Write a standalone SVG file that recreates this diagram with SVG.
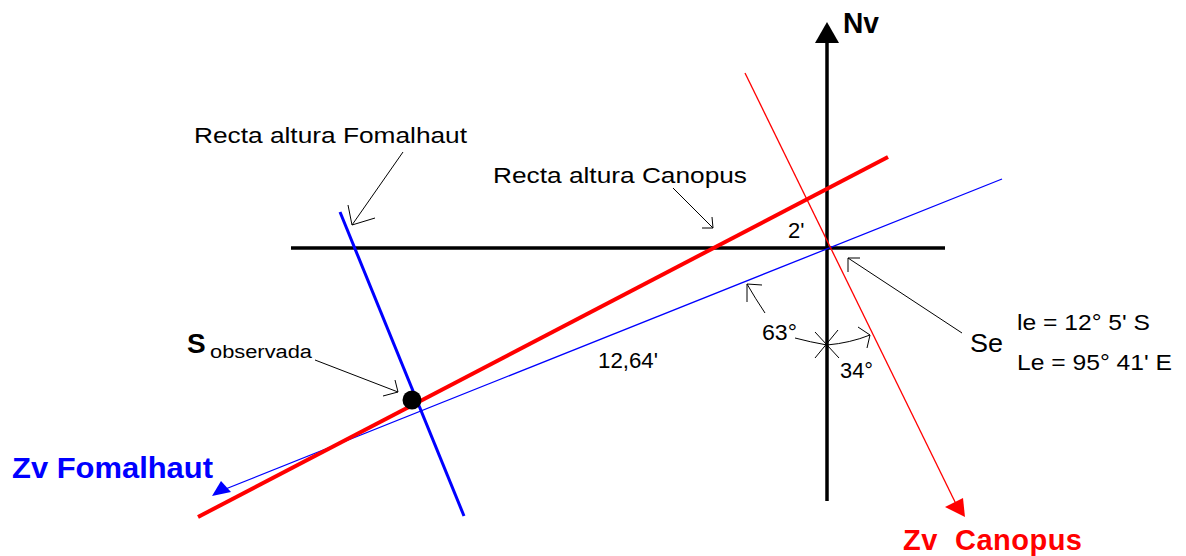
<svg xmlns="http://www.w3.org/2000/svg" width="1186" height="556" viewBox="0 0 1186 556">
<style>
text{font-family:"Liberation Sans",Arial,sans-serif;fill:#000}
.lbl{font-size:22px}
.thin{stroke:#000;stroke-width:1;fill:none}
.axis{stroke:#000;stroke-width:3.5;fill:none}
</style>
<rect width="1186" height="556" fill="#fff"/>
<g id="connectors">
  <!-- axes -->
  <line class="axis" x1="827" y1="40" x2="827" y2="501"/>
  <polygon points="827,22 815,43 839,43" fill="#000"/>
  <line class="axis" x1="291" y1="248" x2="945" y2="248"/>
  <!-- Zv Fomalhaut (thin blue) -->
  <line x1="1002" y1="179" x2="218" y2="492" stroke="#0000ff" stroke-width="1.3"/>
  <polygon points="212,496 221,481 231,492" fill="#0000ff"/>
  <!-- Zv Canopus (thin red) -->
  <line x1="745" y1="73" x2="958" y2="508" stroke="#ff0000" stroke-width="1.3"/>
  <polygon points="965,517 945,507 963,498" fill="#ff0000"/>
  <!-- Recta altura Canopus (thick red) -->
  <line x1="198" y1="517" x2="888" y2="157" stroke="#ff0000" stroke-width="4"/>
  <!-- Recta altura Fomalhaut (thick blue) -->
  <line x1="340" y1="212" x2="464" y2="516" stroke="#0000ff" stroke-width="3"/>
  <!-- label arrows -->
  <path class="thin" d="M403,152 L352,225 M348,205 L352,225 L375,218"/>
  <path class="thin" d="M673,188 L713,228 M712,217 L713,228 L702,228"/>
  <path class="thin" d="M315,360 L398,392 M395,380 L398,392 L383,396"/>
  <path class="thin" d="M962,333 L848,258 M848,272 L848,258 L860,258"/>
  <!-- angle arcs -->
  <path class="thin" d="M827,345 Q810,342 795,338"/>
  <path class="thin" d="M765,313 Q755,298 747,284 M747,302 L747,284 L762,285"/>
  <path class="thin" d="M827,345 Q850,343 870,335 M858,327 L870,335 L867,348"/>
  <path class="thin" d="M815,332 L839,358 M838,330 L815,358"/>
</g>
<g id="node-sobs">
  <circle cx="412" cy="400" r="9.5" fill="#000"/>
  <text x="187" y="353" font-size="28" font-weight="bold">S</text>
  <text x="210" y="358" font-size="18" textLength="102" lengthAdjust="spacingAndGlyphs">observada</text>
</g>
<g id="node-nv">
  <text x="843" y="33" font-size="30" font-weight="bold" textLength="36" lengthAdjust="spacingAndGlyphs">Nv</text>
</g>
<g id="node-recta-fomalhaut">
  <text class="lbl" x="194" y="143" textLength="273" lengthAdjust="spacingAndGlyphs">Recta altura Fomalhaut</text>
</g>
<g id="node-recta-canopus">
  <text class="lbl" x="493" y="183" textLength="254" lengthAdjust="spacingAndGlyphs">Recta altura Canopus</text>
</g>
<g id="node-labels">
  <text class="lbl" x="788" y="238">2'</text>
  <text class="lbl" x="762" y="340" textLength="35" lengthAdjust="spacingAndGlyphs">63°</text>
  <text class="lbl" x="840" y="378" textLength="33" lengthAdjust="spacingAndGlyphs">34°</text>
  <text class="lbl" x="598" y="368" textLength="60" lengthAdjust="spacingAndGlyphs">12,64'</text>
</g>
<g id="node-se">
  <text x="970" y="352" font-size="26" textLength="33" lengthAdjust="spacingAndGlyphs">Se</text>
  <text class="lbl" x="1017" y="330" textLength="133" lengthAdjust="spacingAndGlyphs">le = 12° 5' S</text>
  <text class="lbl" x="1017" y="370" textLength="155" lengthAdjust="spacingAndGlyphs">Le = 95° 41' E</text>
</g>
<g id="node-zv-fomalhaut">
  <text x="12" y="478" font-size="30" font-weight="bold" style="fill:#0000ff" textLength="201" lengthAdjust="spacingAndGlyphs">Zv Fomalhaut</text>
</g>
<g id="node-zv-canopus">
  <text x="903" y="550" font-size="29" font-weight="bold" style="fill:#ff0000" textLength="179" lengthAdjust="spacing" xml:space="preserve">Zv  Canopus</text>
</g>
</svg>
